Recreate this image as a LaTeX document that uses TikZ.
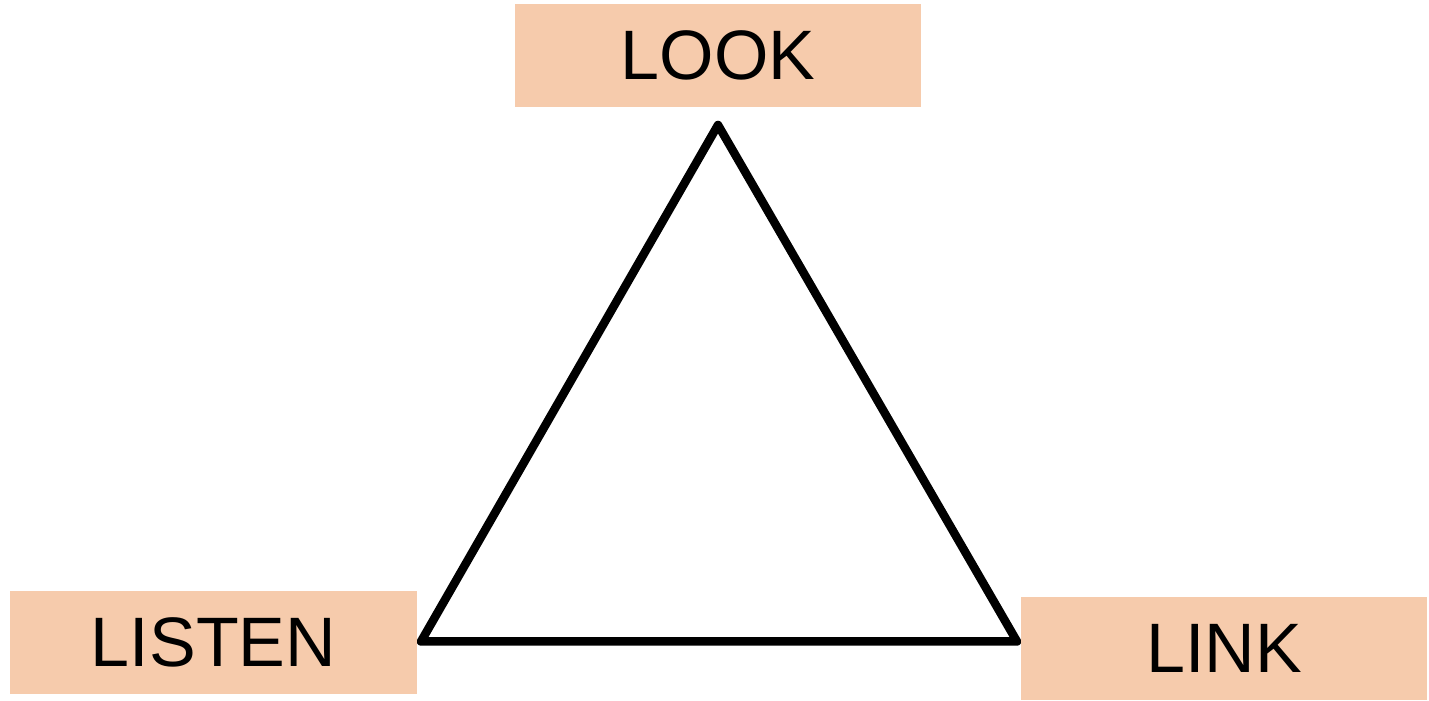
\documentclass[tikz,border=0pt]{standalone}
\usepackage{fontspec}
\setmainfont{Liberation Sans}
\definecolor{peach}{RGB}{246,203,172}
\begin{document}
\begin{tikzpicture}[x=1pt,y=1pt,
  label box/.style={fill=peach, draw=none, minimum width=406pt, minimum height=103pt,
    inner sep=0pt, font=\fontsize{70}{84}\selectfont, text=black},
  tri/.style={line width=8.5pt, line join=round, black}]
\useasboundingbox (0,0) rectangle (1429,701);
\coordinate (top) at (718,576);
\coordinate (bl) at (421,59.5);
\coordinate (br) at (1017,59.5);
\draw[tri] (top) -- (br) -- (bl) -- cycle;
\node[label box] (look) at (718,645.5) {LOOK};
\node[label box, minimum width=407pt] (listen) at (213.5,58.5) {LISTEN};
\node[label box] (link) at (1224,52.5) {LINK};
\end{tikzpicture}
\end{document}
